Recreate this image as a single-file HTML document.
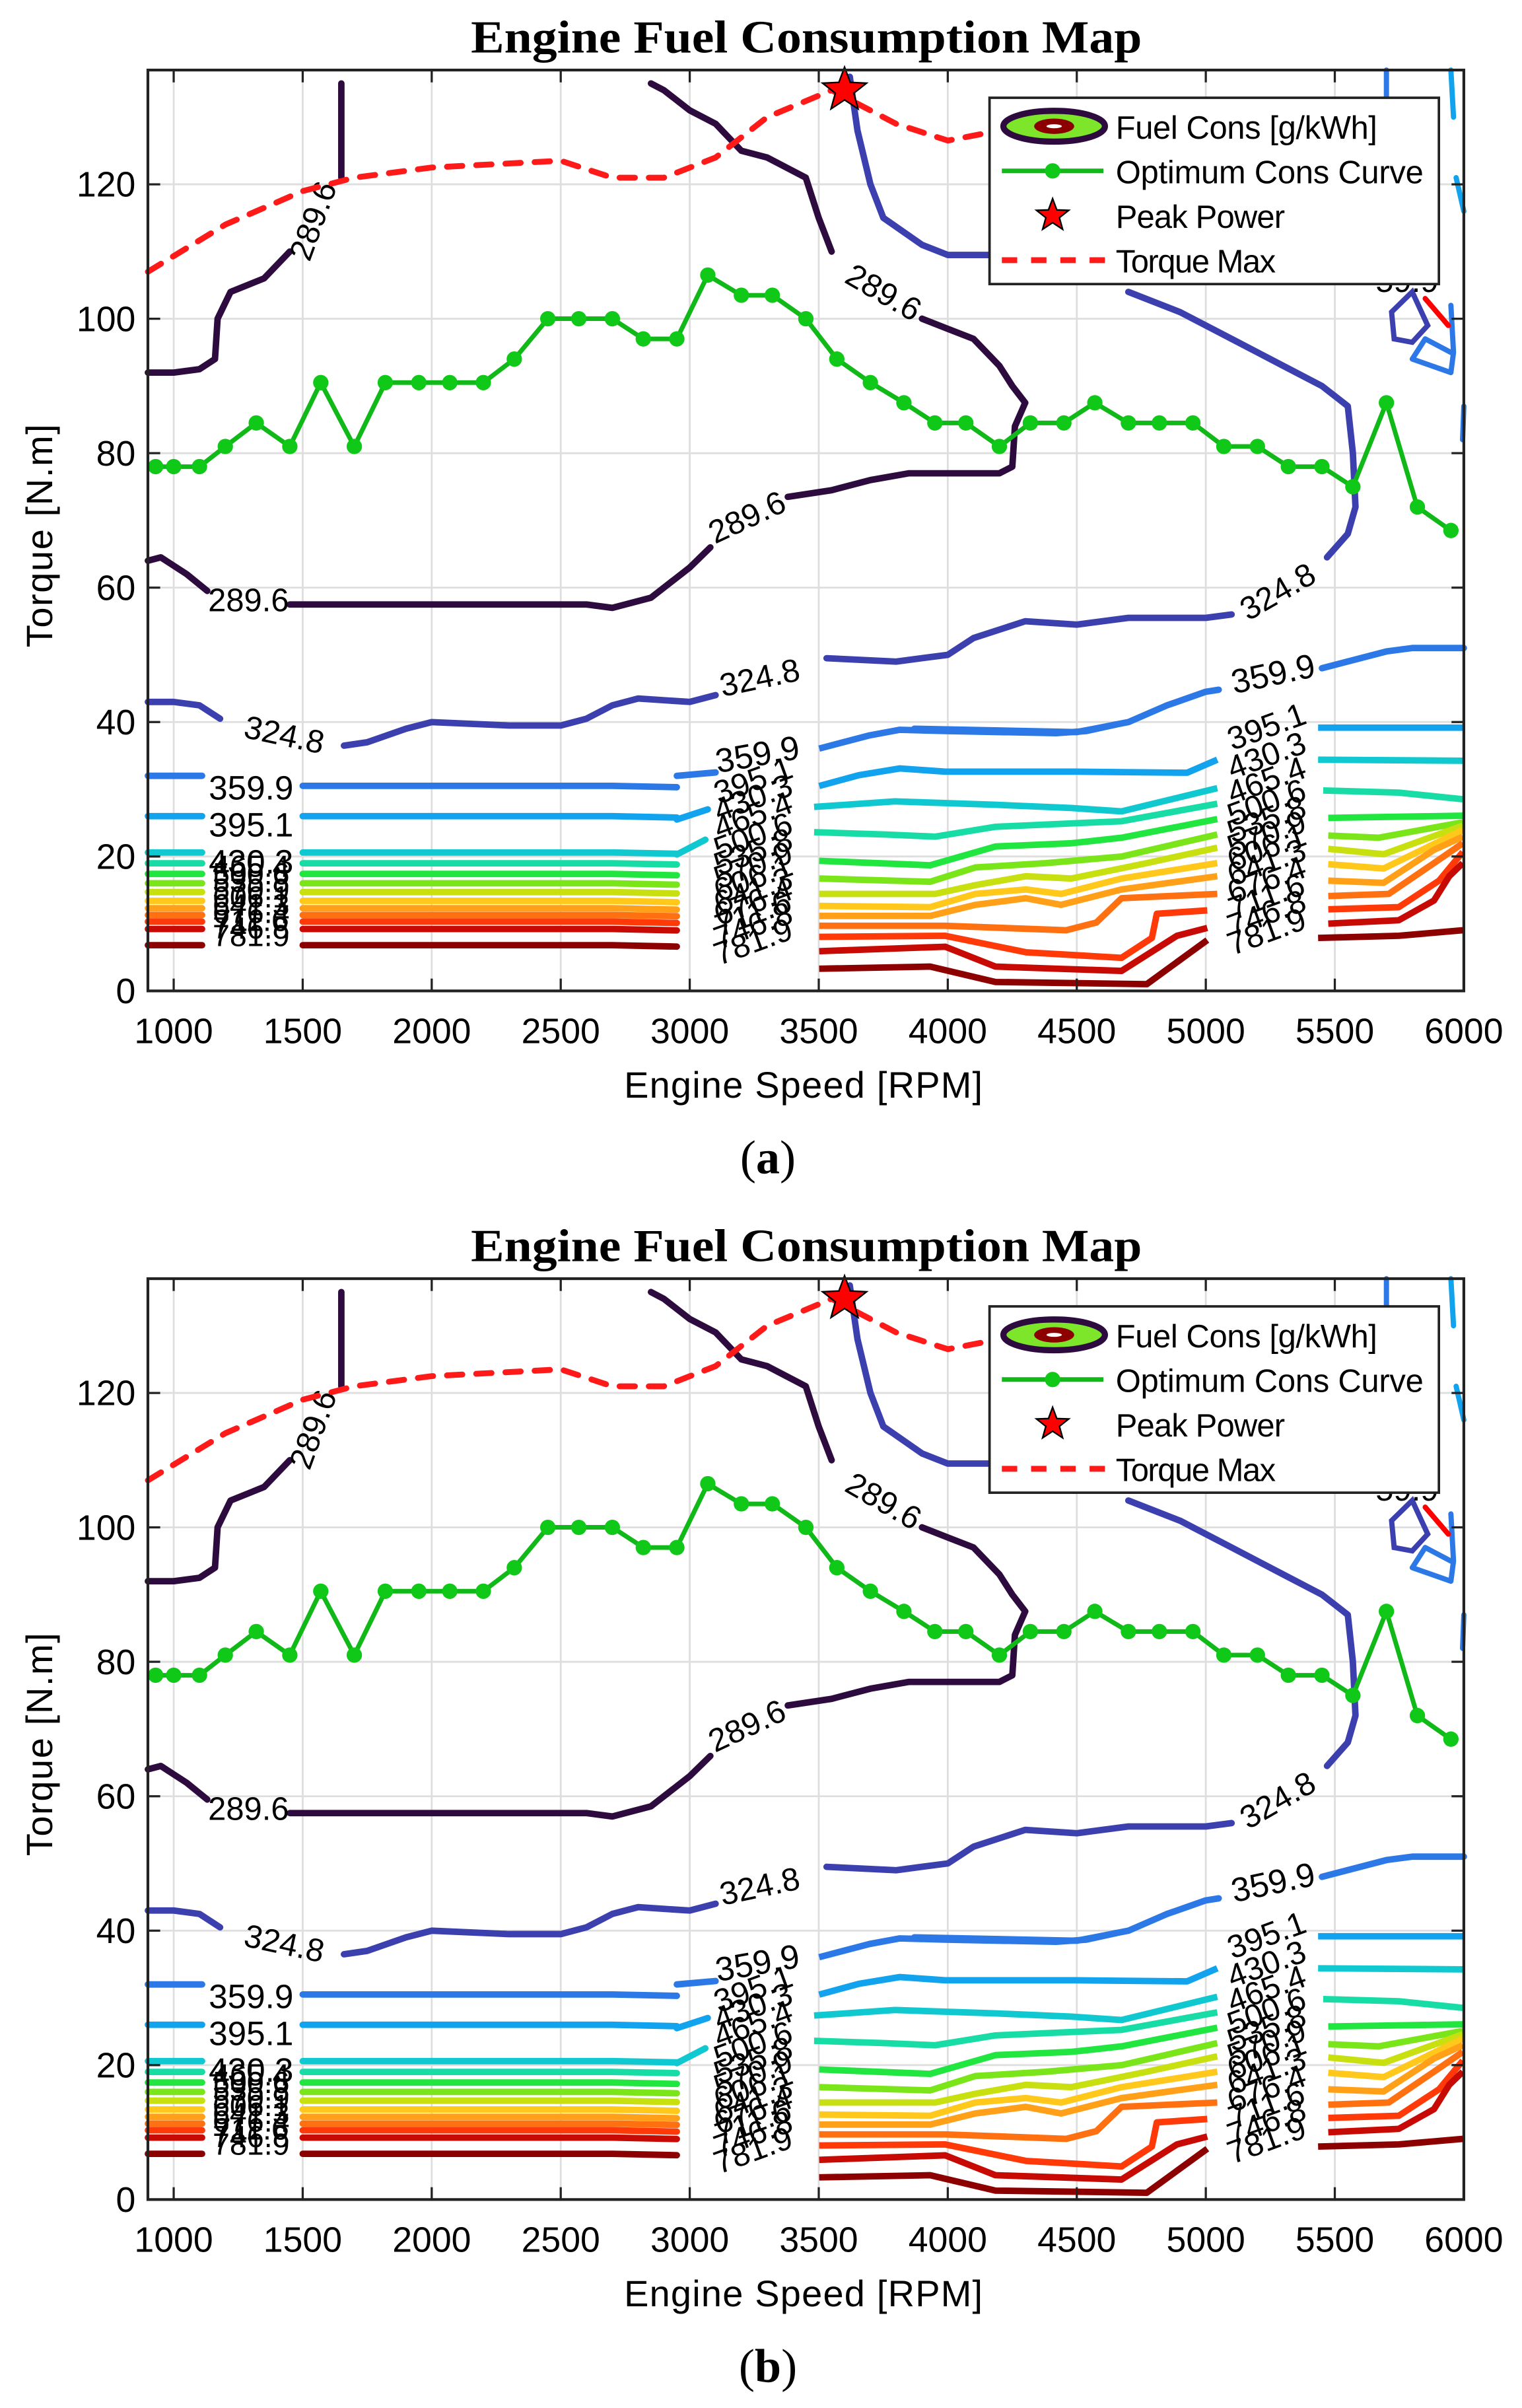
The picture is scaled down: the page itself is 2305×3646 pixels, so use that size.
<!DOCTYPE html>
<html><head><meta charset="utf-8">
<style>
html,body{margin:0;padding:0;background:#fff;}
svg{display:block;}
text{font-family:"Liberation Sans Narrow","Liberation Sans",sans-serif;}
text.ser{font-family:"Liberation Serif",serif;}
</style></head>
<body>
<svg id="s" xmlns="http://www.w3.org/2000/svg" width="2305" height="3646" viewBox="0 0 989 1564" preserveAspectRatio="none">
<rect width="989" height="1564" fill="#fff"/>
<g id="P"></g>
<use href="#P" x="0" y="785"/>
</svg>
<script>
const G=document.getElementById('P');
const L=96.1,R=951.2,T=45.5,B=643.6;
const X=r=>L+(r-900)*(R-L)/5100;
const Y=t=>B-t*(B-T)/137;
const ZX=zx=>(1050+zx/1.31)/2.331, ZY=zy=>(1100+zy/3)/2.331;
const SW=4.2;
let h='';
function el(s){h+=s;}
function pl(pts,col,w,extra){el(`<polyline fill="none" stroke="${col}" stroke-width="${w}" stroke-linejoin="round" stroke-linecap="round" ${extra||''} points="${pts.map(p=>X(p[0]).toFixed(1)+','+Y(p[1]).toFixed(1)).join(' ')}"/>`);}
function zpl(pts,col){el(`<polyline fill="none" stroke="${col}" stroke-width="${SW}" stroke-linejoin="round" points="${pts.map(p=>ZX(p[0]).toFixed(1)+','+ZY(p[1]).toFixed(1)).join(' ')}"/>`);}
function tx(x,y,s,size,rot,anchor,extra){el(`<text x="${x}" y="${y}" font-size="${size}" text-anchor="${anchor||'middle'}" ${rot?`transform="rotate(${rot} ${x} ${y})"`:''} ${extra||''}>${s}</text>`);}
el(`<text class="ser" x="524" y="34" font-size="30" font-weight="bold" text-anchor="middle" textLength="436" lengthAdjust="spacingAndGlyphs">Engine Fuel Consumption Map</text>`);
for(let r=1000;r<=5500;r+=500) el(`<line x1="${X(r)}" y1="${T}" x2="${X(r)}" y2="${B}" stroke="#dedede" stroke-width="1.2"/>`);
for(let t=20;t<=120;t+=20) el(`<line x1="${L}" y1="${Y(t)}" x2="${R}" y2="${Y(t)}" stroke="#dedede" stroke-width="1.2"/>`);
const cols=['#2e0b3e','#3c3fae','#2b78e6','#12a3ee','#10c8d0','#18dca6','#22e640','#7ae61a','#c8e010','#ffc81a','#ffa018','#ff7010','#ff3a08','#c80a04','#8c0000'];
const names=['289.6','324.8','359.9','395.1','430.3','465.4','500.6','535.8','570.9','606.1','641.3','676.4','711.6','746.8','781.9'];
pl([[1650,135],[1650,121]],cols[0],SW);
pl([[1450,110],[1350,106],[1220,104],[1170,100],[1160,94],[1100,92.5],[1000,92],[900,92]],cols[0],SW);
pl([[900,64],[950,64.5],[1050,62],[1130,59.5]],cols[0],SW);
pl([[1450,57.5],[2600,57.5],[2700,57],[2850,58.5],[3000,63],[3080,66]],cols[0],SW);
pl([[3380,73.5],[3550,74.5],[3700,76],[3850,77],[4200,77],[4250,78],[4260,84],[4300,87.5],[4250,90],[4200,93],[4100,97],[4000,98.5],[3900,100]],cols[0],SW);
pl([[3550,110],[3500,115],[3450,121],[3300,124],[3200,125],[3100,129],[3000,131],[2900,134],[2850,135]],cols[0],SW);
tx(X(1290),Y(56.5),'289.6',21,0);
tx(X(1580),Y(114),'289.6',21,-70);
tx(X(3240),Y(69),'289.6',21,-25);
tx(X(3730),Y(102.5),'289.6',21,30);
pl([[3620,136],[3650,128],[3700,120],[3750,115],[3900,111],[4000,109.5],[4200,109.5]],cols[1],SW);
pl([[4700,104],[4900,101],[5100,97],[5300,93],[5450,90],[5550,87],[5570,80],[5580,72],[5550,68],[5470,64.5]],cols[1],SW);
pl([[5100,56],[5000,55.5],[4700,55.5],[4500,54.5],[4300,55],[4100,52.5],[4000,50],[3800,49],[3530,49.5]],cols[1],SW);
pl([[3100,44],[3000,43],[2800,43.5],[2700,42.5],[2600,40.5],[2500,39.5],[2300,39.5],[2000,40],[1900,39],[1750,37],[1660,36.5]],cols[1],SW);
pl([[1180,40.5],[1100,42.5],[1000,43],[900,43]],cols[1],SW);
tx(X(1420),Y(36.5),'324.8',21,12);
tx(X(3280),Y(45),'324.8',21,-12);
tx(X(5300),Y(58),'324.8',21,-30);
el(`<polygon fill="none" stroke="${cols[1]}" stroke-width="3.4" points="${X(5720)},${Y(101)} ${X(5800)},${Y(104)} ${X(5860)},${Y(99)} ${X(5800)},${Y(96.5)} ${X(5730)},${Y(97)}"/>`);
pl([[5950,137],[5960,130]],cols[3],3.4);pl([[6000,116],[5970,121]],cols[3],3.4);pl([[5700,137],[5700,133]],cols[2],3.4);
pl([[5950,102],[5960,95],[5950,92],[5800,94],[5850,97],[5950,95]],cols[2],3.4);
pl([[6000,87],[5995,82]],cols[2],3.4);
pl([[5850,103],[5940,99]],'#f00',3.4);
tx(X(5780),Y(104),'59.9',21,0,'middle');
const leftY=[null,null,32,26,20.6,19,17.4,16,14.7,13.4,12.3,11.3,10.3,9.2,6.8];
for(let i=2;i<15;i++){
  let y=leftY[i];
  pl([[900,y],[1110,y]],cols[i],SW);
  let y2=i==2?30.5:y;
  pl([[1500,y2],[2700,y2],[2950,y2-0.2]],cols[i],SW);
}
pl([[2950,32],[3100,32.5]],cols[2],SW);
pl([[2950,25.5],[3070,27]],cols[3],SW);
pl([[2950,20.3],[3060,22.5]],cols[4],SW);
tx(X(1300),Y(28.5),'359.9',22,0);
tx(X(1300),Y(23),'395.1',22,0);
tx(X(1300),Y(17.5),'430.3',22,0);
for(let i=5;i<15;i++) tx(X(1300),Y(17-(i-5)*1.15),names[i],20,0,'middle');
const mid=[
[[[250,100],[350,40],[410,15],[500,20],[720,30],[780,20],[840,-10]],2],
[[[250,270],[330,220],[410,190],[500,205],[760,205],[980,210],[1040,150]],3],
[[[240,365],[400,340],[600,355],[750,370],[850,385],[1040,280]],4],
[[[240,480],[380,490],[480,500],[600,455],[750,440],[850,430],[1040,350]],5],
[[[250,610],[470,630],[600,545],[750,530],[850,505],[1040,420]],6],
[[[250,690],[470,705],[560,640],[700,620],[850,590],[1040,490]],7],
[[[250,760],[480,760],[560,720],[660,680],[750,690],[900,620],[1040,550]],8],
[[[250,815],[470,820],[560,760],[660,740],[730,760],[850,690],[1040,620]],9],
[[[250,860],[470,860],[560,810],[660,780],[730,810],[850,740],[1040,680]],10],
[[[250,905],[500,905],[740,925],[800,890],[850,780],[1040,760]],11],
[[[250,955],[500,950],[660,1025],[850,1050],[910,960],[920,850],[1020,835]],12],
[[[250,1020],[500,1000],[600,1090],[850,1110],[960,950],[1020,915]],13],
[[[250,1100],[470,1090],[600,1160],[900,1170],[1020,970]],14]];
mid.forEach(m=>zpl(m[0],cols[m[1]]));
pl([[3870,39],[4500,38.5],[4700,40],[4850,42.5],[5000,44.5],[5050,44.8]],cols[2],SW);
pl([[5450,48],[5700,50.5],[5800,51],[6000,51]],cols[2],SW);
tx(X(3270),Y(33.5),'359.9',22,-10);
tx(X(5270),Y(45.5),'359.9',22,-12);
const midL=[['395.1',29.8],['430.3',27.2],['465.4',24.6],['500.6',21.5],['535.8',19.2],['570.9',17.2],['606.1',15.3],['641.3',13.4],['676.4',11.7],['711.6',10],['746.8',8.2],['781.9',5.8]];
midL.forEach(l=>tx(X(3260),Y(l[1]),l[0],21,-20));
const rc=[
[[[1240,5],[1527,5]],3],
[[[1240,150],[1527,155]],4],
[[[1250,290],[1400,300],[1527,330]],5],
[[[1260,415],[1527,405]],6],
[[[1260,495],[1360,505],[1527,435]],7],
[[[1260,555],[1370,580],[1527,450]],8],
[[[1260,625],[1370,645],[1527,470]],9],
[[[1260,700],[1370,710],[1470,560],[1527,500]],10],
[[[1260,770],[1380,760],[1470,620],[1527,530]],11],
[[[1260,830],[1400,820],[1480,700],[1527,570]],12],
[[[1260,895],[1400,880],[1470,790],[1500,680],[1527,620]],13],
[[[1240,960],[1400,950],[1527,925]],14]];
rc.forEach(m=>zpl(m[0],cols[m[1]]));
const rL=[['395.1',37.8],['430.3',33.5],['465.4',29.8],['500.6',26.5],['535.8',24],['570.9',21.8],['606.1',19.8],['641.3',17.6],['676.4',15],['711.6',12.5],['746.8',10],['781.9',7.3]];
rL.forEach(l=>tx(X(5250),Y(l[1]),l[0],21,-20));
pl([[900,107],[1200,114],[1500,119],[1700,121],[2000,122.5],[2500,123.5],[2700,121],[2900,121],[3100,124],[3300,130],[3550,134],[3800,129],[4000,126.5],[4200,128]],'#ff1a1a',3.8,'stroke-dasharray="10 9" stroke-linecap="butt"');
const op=[[930,78],[1000,78],[1100,78],[1200,81],[1320,84.5],[1450,81],[1570,90.5],[1700,81],[1820,90.5],[1950,90.5],[2070,90.5],[2200,90.5],[2320,94],[2450,100],[2570,100],[2700,100],[2820,97],[2950,97],[3070,106.5],[3200,103.5],[3320,103.5],[3450,100],[3570,94],[3700,90.5],[3830,87.5],[3950,84.5],[4070,84.5],[4200,81],[4320,84.5],[4450,84.5],[4570,87.5],[4700,84.5],[4820,84.5],[4950,84.5],[5070,81],[5200,81],[5320,78],[5450,78],[5570,75],[5700,87.5],[5820,72],[5950,68.5]];
pl(op,'#10b818',3);
op.forEach(p=>{el(`<circle cx="${X(p[0])}" cy="${Y(p[1])}" r="5" fill="#10c818"/>`);});
function star(cx,cy,r){let s=[];for(let i=0;i<10;i++){let a=-Math.PI/2+i*Math.PI/5,rr=i%2?r*0.42:r;s.push((cx+rr*Math.cos(a)).toFixed(1)+','+(cy+rr*Math.sin(a)).toFixed(1));}return s.join(' ');}
el(`<polygon points="${star(X(3600),Y(134),15)}" fill="#f00" stroke="#000" stroke-width="1"/>`);
el(`<rect x="${L}" y="${T}" width="${R-L}" height="${B-T}" fill="none" stroke="#222" stroke-width="1.8"/>`);
for(let r=1000;r<=6000;r+=500){el(`<line x1="${X(r)}" y1="${B}" x2="${X(r)}" y2="${B-8}" stroke="#222" stroke-width="1.4"/><line x1="${X(r)}" y1="${T}" x2="${X(r)}" y2="${T+8}" stroke="#222" stroke-width="1.4"/>`);tx(X(r),B+34,r,23,0);}
for(let t=0;t<=120;t+=20){el(`<line x1="${L}" y1="${Y(t)}" x2="${L+8}" y2="${Y(t)}" stroke="#222" stroke-width="1.4"/><line x1="${R}" y1="${Y(t)}" x2="${R-8}" y2="${Y(t)}" stroke="#222" stroke-width="1.4"/>`);tx(L-8,Y(t)+8,t,23,0,'end');}
tx(522,713,'Engine Speed [RPM]',24,0,'middle','textLength="233"');
tx(34,348,'Torque [N.m]',24,-90,'middle','textLength="145"');
el(`<text class="ser" x="499" y="762" font-size="31" text-anchor="middle">(<tspan font-weight="bold">a</tspan>)</text>`);
el(`<rect x="643" y="63.5" width="292" height="121" fill="#fff" stroke="#222" stroke-width="1.6"/>`);
el(`<ellipse cx="685" cy="82" rx="33" ry="10" fill="#7ee62a" stroke="#2e0b3e" stroke-width="4"/><ellipse cx="685" cy="82" rx="13" ry="5" fill="#8c0000"/><ellipse cx="685" cy="82" rx="5" ry="1.3" fill="#fff"/>`);
el(`<line x1="651" y1="111" x2="717" y2="111" stroke="#10b818" stroke-width="3"/><circle cx="684" cy="111" r="5" fill="#10c818"/>`);
el(`<polygon points="${star(684,140,11)}" fill="#f00" stroke="#000" stroke-width="1"/>`);
el(`<line x1="651" y1="169" x2="719" y2="169" stroke="#ff1a1a" stroke-width="3.8" stroke-dasharray="10 9"/>`);
tx(725,90,'Fuel Cons [g/kWh]',21,0,'start','textLength="170"');
tx(725,119,'Optimum Cons Curve',21,0,'start','textLength="200"');
tx(725,148,'Peak Power',21,0,'start','textLength="110"');
tx(725,177,'Torque Max',21,0,'start','textLength="104"');
G.innerHTML=h;
const s=document.getElementById('s');
s.insertAdjacentHTML('beforeend',`<rect x="470" y="1520" width="60" height="44" fill="#fff"/><text class="ser" x="499" y="1547" font-size="31" text-anchor="middle">(<tspan font-weight="bold">b</tspan>)</text>`);
</script>
</body></html>
